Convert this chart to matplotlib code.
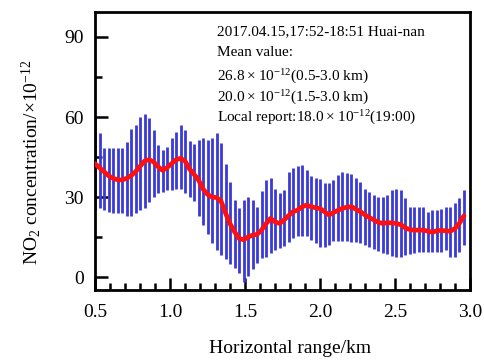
import matplotlib
matplotlib.use("Agg")
import matplotlib.pyplot as plt
from matplotlib.ticker import MultipleLocator, FormatStrFormatter

plt.rcParams["font.family"] = ["Liberation Serif", "DejaVu Serif"]
plt.rcParams["mathtext.fontset"] = "custom"
plt.rcParams["mathtext.rm"] = "Liberation Serif"
plt.rcParams["mathtext.default"] = "regular"

# horizontal distance of each profile bin (km), 0.03 km steps
distance = [round(0.5 + 0.03 * i, 2) for i in range(83)]

# mean NO2 concentration (x 1e-12)
mean_no2 = [
    42.5, 41.0, 39.5, 38.0, 37.0, 36.5, 36.4, 37.0, 38.0, 39.5,
    41.5, 43.5, 44.0, 43.2, 41.4, 40.0, 41.0, 42.5, 44.0, 44.5,
    43.5, 40.5, 38.5, 36.4, 33.0, 31.0, 30.0, 29.8, 28.5, 24.0,
    20.0, 17.0, 14.5, 14.0, 15.0, 15.7, 16.0, 17.6, 20.0, 22.0,
    20.7, 20.1, 21.4, 23.0, 24.5, 25.1, 26.3, 27.0, 26.4, 26.0,
    25.7, 24.5, 23.3, 24.2, 25.0, 25.8, 26.2, 26.4, 25.4, 24.5,
    23.3, 22.3, 21.4, 20.5, 20.1, 20.4, 20.3, 20.1, 19.6, 18.4,
    17.8, 17.6, 17.6, 17.6, 17.2, 16.8, 17.4, 17.5, 17.3, 17.2,
    18.2, 20.2, 23.0,
]

# upper and lower ends of the error bars
upper_no2 = [
    60.0, 54.0, 48.4, 48.4, 48.4, 48.4, 48.4, 50.6, 55.5, 57.0,
    60.0, 61.0, 59.6, 55.0, 49.5, 47.6, 48.8, 52.0, 54.4, 57.0,
    55.0, 51.0, 50.0, 51.4, 52.0, 51.4, 52.0, 54.0, 50.2, 42.5,
    35.7, 28.9, 25.8, 28.9, 30.1, 28.9, 26.4, 32.3, 36.5, 37.0,
    33.0, 31.4, 32.6, 39.5, 40.8, 41.6, 42.0, 40.1, 37.9, 37.0,
    36.6, 35.4, 35.1, 36.4, 38.2, 39.5, 39.1, 38.6, 37.0, 35.7,
    33.2, 32.0, 30.7, 30.1, 30.1, 30.7, 32.6, 33.2, 32.6, 29.5,
    26.4, 26.4, 26.4, 26.4, 24.5, 25.1, 25.1, 25.7, 26.4, 26.4,
    27.6, 29.5, 32.6,
]
lower_no2 = [
    25.0, 26.0, 25.0, 24.4, 24.0, 24.0, 24.0, 23.0, 22.8, 24.0,
    25.0, 26.0, 28.0, 30.0, 31.5, 32.0, 32.6, 32.6, 33.0, 33.0,
    31.5, 30.0, 28.5, 23.0, 19.5, 16.0, 12.6, 10.0, 8.2, 6.7,
    4.8, 3.3, 1.5, -1.7, 0.5, 3.0, 5.1, 7.3, 7.6, 9.0,
    10.0, 11.0, 11.5, 13.0, 14.5, 15.4, 15.4, 15.4, 14.0, 12.6,
    11.4, 11.4, 12.0, 13.5, 13.5, 13.5, 13.5, 13.2, 13.0, 12.6,
    12.0, 11.4, 10.5, 9.7, 9.0, 8.5, 8.0, 7.6, 7.6, 8.2,
    8.6, 8.9, 9.3, 9.5, 9.5, 9.5, 9.5, 9.5, 10.0, 7.6,
    7.6, 9.5, 12.0,
]

info_lines = [
    "2017.04.15,17:52-18:51 Huai-nan",
    "Mean value:",
    r"$26.8\times10^{-12}$(0.5-3.0 km)",
    r"$20.0\times10^{-12}$(1.5-3.0 km)",
    r"Local report:$18.0\times10^{-12}$(19:00)",
]
# vertical position of each info line (axes fraction)
info_y = [0.928, 0.853, 0.767, 0.691, 0.619]

fig = plt.figure(figsize=(4.85, 3.6), dpi=100)
ax = fig.add_axes([0.196, 0.194, 0.773, 0.773])

ax.vlines(distance, lower_no2, upper_no2, color="#3a3ad8", lw=2.0, zorder=2)
ax.plot(distance, mean_no2, color="#ff1010", lw=3.4, zorder=3,
        solid_capstyle="round")

ax.set_xlim(0.5, 3.0)
ax.set_ylim(-4.9, 99.4)
ax.xaxis.set_major_locator(MultipleLocator(0.5))
ax.xaxis.set_minor_locator(MultipleLocator(0.1))
ax.yaxis.set_major_locator(MultipleLocator(30))
ax.yaxis.set_minor_locator(MultipleLocator(15))
ax.xaxis.set_major_formatter(FormatStrFormatter("%.1f"))

ax.tick_params(which="both", direction="in", top=False, right=False,
               width=1.8, labelsize=14)
ax.tick_params(axis="x", pad=10)
ax.tick_params(axis="y", pad=8)
ax.tick_params(which="major", length=9)
ax.tick_params(which="minor", length=5)
for sp in ax.spines.values():
    sp.set_linewidth(2)

ax.set_xlabel("Horizontal range/km", fontsize=14)
ax.set_ylabel(r"NO$_2$ concentration/$\times10^{-12}$", fontsize=14)
ax.xaxis.set_label_coords(0.52, -0.18)
ax.yaxis.set_label_coords(-0.139, 0.46)

for line, yy in zip(info_lines, info_y):
    ax.text(0.326, yy, line, transform=ax.transAxes,
            fontsize=11, va="center", ha="left")

fig.savefig("out.png", dpi=100)
